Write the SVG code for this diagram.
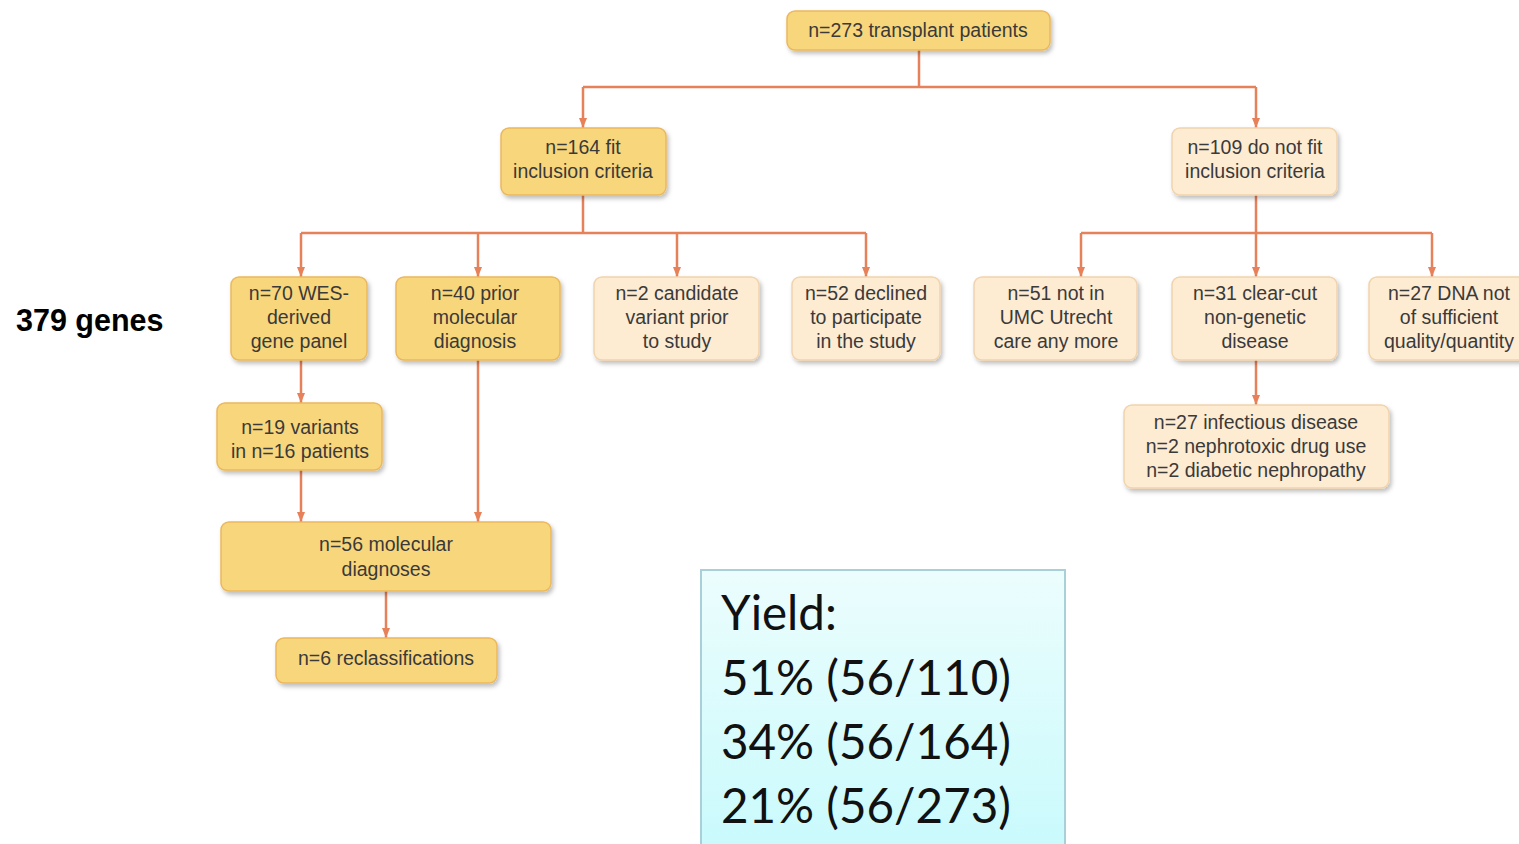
<svg xmlns="http://www.w3.org/2000/svg" width="1519" height="844" viewBox="0 0 1519 844">
<style>
.y{fill:#f8d67c;stroke:#eab85e;stroke-width:1.5}
.c{fill:#fdebd2;stroke:#f1d3ae;stroke-width:1.5}
.t{font-family:"Liberation Sans",Arial,sans-serif;font-size:19.5px;fill:#3a3a3a;text-anchor:middle}
.ln{fill:none;stroke:#e6815a;stroke-width:2.5}
.yt{font-family:Lato,"Liberation Sans",sans-serif;font-size:47.5px;fill:#111}
</style>
<defs>
<filter id="sh" x="-10%" y="-20%" width="130%" height="150%">
<feDropShadow dx="2" dy="3" stdDeviation="2" flood-color="#000" flood-opacity="0.25"/>
</filter>
<marker id="ar" markerUnits="userSpaceOnUse" markerWidth="10" markerHeight="10" viewBox="0 0 10 10" refX="10" refY="5" orient="auto">
<path d="M0,1 L10,5 L0,9 Z" fill="#e6815a"/>
</marker>
<linearGradient id="yg" x1="0" y1="0" x2="0" y2="1">
<stop offset="0" stop-color="#ecfdfd"/>
<stop offset="1" stop-color="#c8fafc"/>
</linearGradient>
</defs>
<rect width="1519" height="844" fill="#fff"/>
<g id="connectors">
<path class="ln" d="M919,50 V87 M583,87 H1256"/>
<path class="ln" d="M583,87 V128" marker-end="url(#ar)"/>
<path class="ln" d="M1256,87 V128" marker-end="url(#ar)"/>
<path class="ln" d="M583,195 V233 M301,233 H866"/>
<path class="ln" d="M301,233 V277" marker-end="url(#ar)"/>
<path class="ln" d="M478,233 V277" marker-end="url(#ar)"/>
<path class="ln" d="M677,233 V277" marker-end="url(#ar)"/>
<path class="ln" d="M866,233 V277" marker-end="url(#ar)"/>
<path class="ln" d="M1256,195 V233 M1081,233 H1432"/>
<path class="ln" d="M1081,233 V277" marker-end="url(#ar)"/>
<path class="ln" d="M1256,233 V277" marker-end="url(#ar)"/>
<path class="ln" d="M1432,233 V277" marker-end="url(#ar)"/>
<path class="ln" d="M1256,360 V405" marker-end="url(#ar)"/>
<path class="ln" d="M301,360 V403" marker-end="url(#ar)"/>
<path class="ln" d="M301,470 V522" marker-end="url(#ar)"/>
<path class="ln" d="M478,360 V522" marker-end="url(#ar)"/>
<path class="ln" d="M386,591 V638" marker-end="url(#ar)"/>
</g>
<g id="n-top"><rect class="y" filter="url(#sh)" x="787" y="11" width="263" height="39" rx="8"/><text class="t" x="918" y="37">n=273 transplant patients</text></g>
<g id="n-fit"><rect class="y" filter="url(#sh)" x="501" y="128" width="165" height="67" rx="8"/><text class="t" x="583" y="154">n=164 fit</text><text class="t" x="583" y="178">inclusion criteria</text></g>
<g id="n-notfit"><rect class="c" filter="url(#sh)" x="1172" y="128" width="165" height="67" rx="8"/><text class="t" x="1255" y="154">n=109 do not fit</text><text class="t" x="1255" y="178">inclusion criteria</text></g>
<g id="n-wes"><rect class="y" filter="url(#sh)" x="231" y="277" width="136" height="83" rx="8"/><text class="t" x="299" y="300">n=70 WES-</text><text class="t" x="299" y="324">derived</text><text class="t" x="299" y="348">gene panel</text></g>
<g id="n-prior"><rect class="y" filter="url(#sh)" x="396" y="277" width="164" height="83" rx="8"/><text class="t" x="475" y="300">n=40 prior</text><text class="t" x="475" y="324">molecular</text><text class="t" x="475" y="348">diagnosis</text></g>
<g id="n-cand"><rect class="c" filter="url(#sh)" x="594" y="277" width="165" height="83" rx="8"/><text class="t" x="677" y="300">n=2 candidate</text><text class="t" x="677" y="324">variant prior</text><text class="t" x="677" y="348">to study</text></g>
<g id="n-declined"><rect class="c" filter="url(#sh)" x="792" y="277" width="148" height="83" rx="8"/><text class="t" x="866" y="300">n=52 declined</text><text class="t" x="866" y="324">to participate</text><text class="t" x="866" y="348">in the study</text></g>
<g id="n-51"><rect class="c" filter="url(#sh)" x="974" y="277" width="163" height="83" rx="8"/><text class="t" x="1056" y="300">n=51 not in</text><text class="t" x="1056" y="324">UMC Utrecht</text><text class="t" x="1056" y="348">care any more</text></g>
<g id="n-31"><rect class="c" filter="url(#sh)" x="1172" y="277" width="165" height="83" rx="8"/><text class="t" x="1255" y="300">n=31 clear-cut</text><text class="t" x="1255" y="324">non-genetic</text><text class="t" x="1255" y="348">disease</text></g>
<g id="n-dna"><rect class="c" filter="url(#sh)" x="1369" y="277" width="170" height="83" rx="8"/><text class="t" x="1449" y="300">n=27 DNA not</text><text class="t" x="1449" y="324">of sufficient</text><text class="t" x="1449" y="348">quality/quantity</text></g>
<g id="n-19"><rect class="y" filter="url(#sh)" x="217" y="403" width="165" height="67" rx="8"/><text class="t" x="300" y="434">n=19 variants</text><text class="t" x="300" y="458">in n=16 patients</text></g>
<g id="n-inf"><rect class="c" filter="url(#sh)" x="1124" y="405" width="265" height="83" rx="8"/><text class="t" x="1256" y="429">n=27 infectious disease</text><text class="t" x="1256" y="453">n=2 nephrotoxic drug use</text><text class="t" x="1256" y="477">n=2 diabetic nephropathy</text></g>
<g id="n-56"><rect class="y" filter="url(#sh)" x="221" y="522" width="330" height="69" rx="8"/><text class="t" x="386" y="551">n=56 molecular</text><text class="t" x="386" y="576">diagnoses</text></g>
<g id="n-6"><rect class="y" filter="url(#sh)" x="276" y="638" width="221" height="45" rx="8"/><text class="t" x="386" y="665">n=6 reclassifications</text></g>
<text x="16" y="331" font-family="Liberation Sans,Arial,sans-serif" font-weight="bold" font-size="30.5" fill="#000">379 genes</text>
<g id="yield">
<rect x="701" y="570" width="364" height="290" fill="url(#yg)" stroke="#a9cfd8" stroke-width="2"/>
<text class="yt" x="721" y="630">Yield:</text>
<text class="yt" x="721" y="695">51% (56/110)</text>
<text class="yt" x="721" y="759">34% (56/164)</text>
<text class="yt" x="721" y="823">21% (56/273)</text>
</g>
</svg>
